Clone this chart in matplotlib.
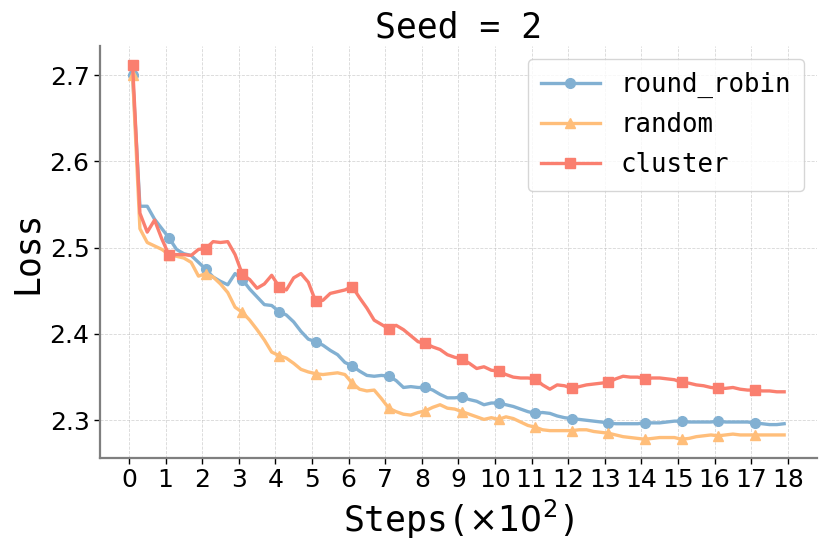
import numpy as np
import matplotlib
matplotlib.use('Agg')
from matplotlib import pyplot as plt

# steps in units of 100, logged every 20 steps
steps = np.round(np.arange(0.1, 18.0, 0.2), 1)

round_robin = [2.700, 2.548, 2.548, 2.533, 2.522, 2.511, 2.498, 2.493, 2.491, 2.483,
               2.475, 2.466, 2.461, 2.457, 2.470, 2.463, 2.452, 2.443, 2.434, 2.433,
               2.426, 2.422, 2.414, 2.403, 2.394, 2.391, 2.387, 2.381, 2.376, 2.367,
               2.363, 2.357, 2.352, 2.351, 2.352, 2.351, 2.346, 2.338, 2.339, 2.338,
               2.338, 2.335, 2.330, 2.326, 2.326, 2.327, 2.324, 2.322, 2.318, 2.320,
               2.320, 2.318, 2.316, 2.313, 2.310, 2.308, 2.309, 2.308, 2.305, 2.303,
               2.302, 2.301, 2.300, 2.299, 2.298, 2.297, 2.296, 2.296, 2.296, 2.296,
               2.297, 2.297, 2.297, 2.298, 2.299, 2.299, 2.298, 2.298, 2.298, 2.298,
               2.299, 2.298, 2.298, 2.298, 2.298, 2.297, 2.296, 2.295, 2.295, 2.296]

random_ = [2.700, 2.522, 2.506, 2.502, 2.498, 2.492, 2.490, 2.488, 2.483, 2.467,
           2.470, 2.466, 2.458, 2.448, 2.431, 2.425, 2.416, 2.405, 2.393, 2.379,
           2.375, 2.372, 2.366, 2.359, 2.356, 2.354, 2.353, 2.354, 2.355, 2.353,
           2.343, 2.336, 2.334, 2.335, 2.325, 2.314, 2.310, 2.307, 2.306, 2.309,
           2.311, 2.315, 2.318, 2.314, 2.313, 2.310, 2.307, 2.304, 2.301, 2.303,
           2.301, 2.304, 2.302, 2.298, 2.294, 2.292, 2.289, 2.288, 2.288, 2.288,
           2.288, 2.289, 2.289, 2.287, 2.286, 2.285, 2.283, 2.281, 2.280, 2.279,
           2.278, 2.279, 2.280, 2.280, 2.280, 2.278, 2.279, 2.281, 2.282, 2.283,
           2.282, 2.283, 2.284, 2.283, 2.283, 2.283, 2.283, 2.283, 2.283, 2.283]

cluster = [2.712, 2.540, 2.518, 2.532, 2.510, 2.491, 2.492, 2.492, 2.491, 2.498,
           2.499, 2.507, 2.506, 2.507, 2.492, 2.469, 2.463, 2.453, 2.458, 2.468,
           2.455, 2.451, 2.465, 2.470, 2.460, 2.438, 2.439, 2.447, 2.449, 2.451,
           2.455, 2.442, 2.430, 2.416, 2.411, 2.406, 2.410, 2.405, 2.398, 2.391,
           2.389, 2.385, 2.382, 2.376, 2.373, 2.371, 2.366, 2.360, 2.362, 2.358,
           2.357, 2.353, 2.350, 2.349, 2.349, 2.348, 2.341, 2.336, 2.341, 2.340,
           2.337, 2.339, 2.341, 2.342, 2.343, 2.344, 2.348, 2.351, 2.350, 2.350,
           2.348, 2.349, 2.349, 2.348, 2.347, 2.344, 2.343, 2.341, 2.340, 2.338,
           2.337, 2.337, 2.338, 2.336, 2.335, 2.335, 2.334, 2.334, 2.333, 2.333]

names = ['round_robin', 'random', 'cluster']
colors = ['#82B0D2', '#FFBE7A', '#FA7F6F']
markers = ['o', '^', 's']
xticks = list(range(0, 19))

mono = 'DejaVu Sans Mono'

fig = plt.figure(figsize=(8.3, 5.54), dpi=100)
ax = fig.add_axes([0.1205, 0.1733, 0.8635, 0.7437])

for ys, name, c, m in zip([round_robin, random_, cluster], names, colors, markers):
    ax.plot(steps, ys, color=c, marker=m, markevery=5, markersize=7 if m != 's' else 7.5,
            linewidth=2.4, label=name)

ax.set_xticks(xticks)
ax.set_yticks([2.3, 2.4, 2.5, 2.6, 2.7])
ax.tick_params(labelsize=18, colors='black', length=4, width=1)
ax.grid(True, linestyle='--', linewidth=0.6, color='#b0b0b0', alpha=0.5)

for s in ['top', 'right']:
    ax.spines[s].set_visible(False)
for s in ['left', 'bottom']:
    ax.spines[s].set_color('#7f7f7f')
    ax.spines[s].set_linewidth(1.6)

ax.set_title('Seed = 2', fontsize=25, family=mono, pad=6)
ax.set_xlabel(r'Steps($\times10^2$)', fontsize=25, family=mono)
ax.set_ylabel('Loss', fontsize=25, family=mono)

leg = ax.legend(loc='upper right', prop={'family': mono, 'size': 18.5},
                fancybox=True, framealpha=0.8, borderpad=0.5, handlelength=2.3,
                labelspacing=0.55, borderaxespad=0.5)

fig.savefig('out.png', dpi=100)
